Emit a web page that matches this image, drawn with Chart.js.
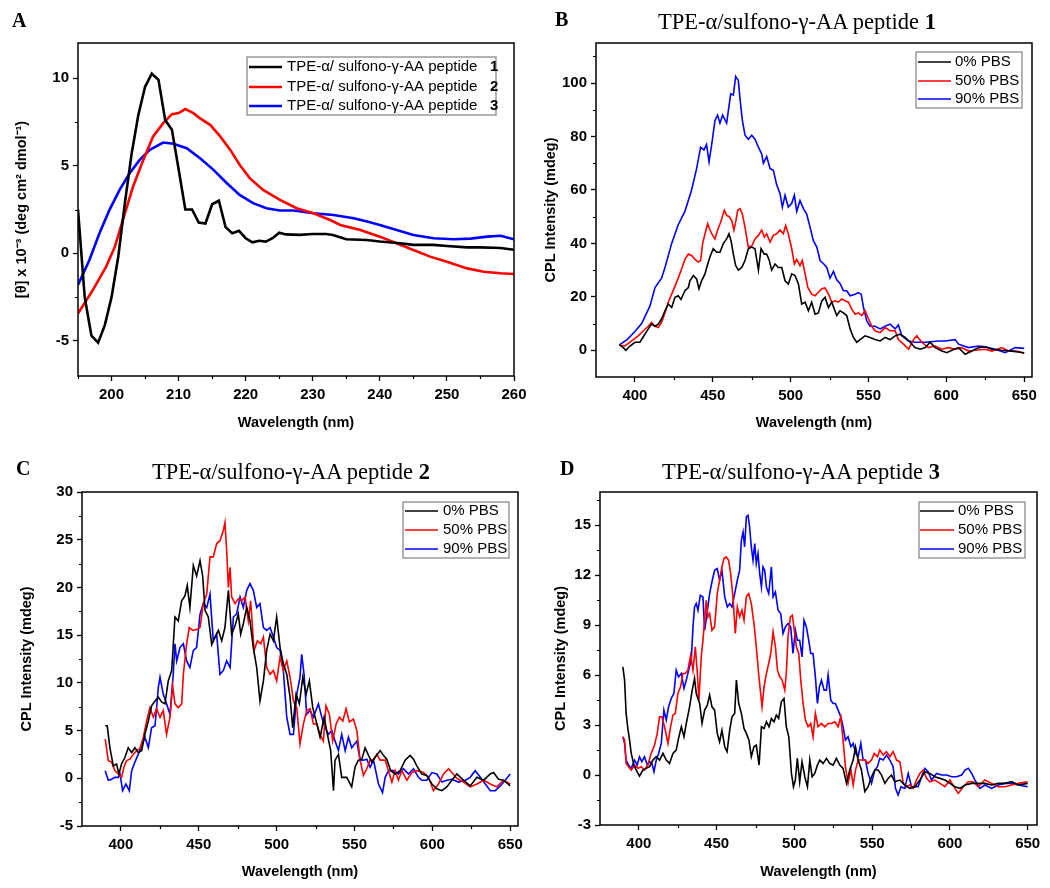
<!DOCTYPE html>
<html><head><meta charset="utf-8">
<script src="https://cdn.jsdelivr.net/npm/chart.js@4.4.1/dist/chart.umd.min.js"></script>
<style>
body{margin:0;background:#fff;width:1050px;height:888px;position:relative;overflow:hidden}
canvas{position:absolute}
.t{position:absolute;font-family:"Liberation Serif","Times New Roman",serif;font-size:22.5px;line-height:24px;text-align:center;width:400px;color:#000;white-space:nowrap}
.l{position:absolute;font-family:"Liberation Serif","Times New Roman",serif;font-weight:bold;font-size:20px;line-height:24px;color:#000}
</style></head><body>
<canvas id="cA" width="540" height="440" style="left:0;top:0"></canvas>
<canvas id="cB" width="525" height="440" style="left:525px;top:0"></canvas>
<canvas id="cC" width="540" height="448" style="left:0;top:440px"></canvas>
<canvas id="cD" width="525" height="448" style="left:525px;top:440px"></canvas>
<div class="l" style="left:12px;top:8px">A</div>
<div class="l" style="left:555px;top:7px">B</div>
<div class="l" style="left:16px;top:456px">C</div>
<div class="l" style="left:560px;top:456px">D</div>
<div class="t" style="left:597px;top:10px">TPE-α/sulfono-γ-AA peptide <b>1</b></div>
<div class="t" style="left:91px;top:460px">TPE-α/sulfono-γ-AA peptide <b>2</b></div>
<div class="t" style="left:601px;top:460px">TPE-α/sulfono-γ-AA peptide <b>3</b></div>
<script>
// ---------- labels ----------
const seriesA = ['TPE-α/ sulfono-γ-AA peptide 1','TPE-α/ sulfono-γ-AA peptide 2','TPE-α/ sulfono-γ-AA peptide 3'];
const seriesPBS = ['0% PBS','50% PBS','90% PBS'];
const xTitle = 'Wavelength (nm)';
const yTitleA = '[θ] x 10⁻³ (deg cm² dmol⁻¹)';
const yTitleCPL = 'CPL Intensity (mdeg)';

// ---------- ticks ----------
const xTicksA = [200,210,220,230,240,250,260];
const xMinorA = [195,205,215,225,235,245,255];
const yTicksA = [-5,0,5,10];
const yMinorA = [-2.5,2.5,7.5];
const xTicksCPL = [400,450,500,550,600,650];
const xMinorCPL = [425,475,525,575,625];
const yTicksB = [0,20,40,60,80,100];
const yMinorB = [10,30,50,70,90,110];
const yTicksC = [-5,0,5,10,15,20,25,30];
const yMinorC = [-2.5,2.5,7.5,12.5,17.5,22.5,27.5];
const yTicksD = [-3,0,3,6,9,12,15];
const yMinorD = [-1.5,1.5,4.5,7.5,10.5,13.5,16.5];

// ---------- data: [wavelength nm, value] ----------
const aBlack = [[195,2.5],[196,-2.5],[197,-4.7],[198,-5.1],[199,-4.1],[200,-2.5],[201,-0.2],[202,2.9],[203,5.7],[204,7.9],[205,9.5],[206,10.25],[207,9.9],[208,7.6],[209,7.05],[210,4.8],[211,2.5],[212,2.5],[213,1.75],[214,1.7],[215,2.8],[216,3.0],[217,1.5],[218,1.14],[219,1.28],[220,0.86],[221,0.63],[222,0.72],[223,0.67],[224,0.86],[225,1.18],[226,1.08],[228,1.05],[230,1.1],[232,1.1],[233,1.05],[235,0.8],[238,0.76],[240,0.67],[243,0.57],[245,0.48],[248,0.48],[250,0.42],[253,0.34],[255,0.34],[258,0.3],[260,0.2]];
const aRed = [[195,-3.43],[197.2,-2.1],[199.2,-0.76],[200.5,0.38],[202,2.3],[203.2,3.8],[204.7,5.3],[206.2,6.67],[207.7,7.43],[209,7.94],[210,8.0],[211,8.23],[212.2,8.0],[213.2,7.7],[214.7,7.33],[216.2,6.67],[217.7,5.9],[219.1,5.05],[220.6,4.29],[222.6,3.62],[225.1,3.05],[227.6,2.57],[230.1,2.29],[232.6,1.9],[234.1,1.62],[237.1,1.33],[240,0.95],[242.5,0.57],[245,0.19],[247.5,-0.19],[250,-0.48],[253,-0.86],[255.5,-1.05],[258,-1.14],[260,-1.18]];
const aBlue = [[195,-1.8],[196.7,-0.38],[198.2,1.14],[199.7,2.48],[201.2,3.62],[202.7,4.57],[204.2,5.33],[205.7,5.9],[207.7,6.32],[209.2,6.25],[211.2,6.0],[213.2,5.43],[215.2,4.76],[217.2,4.0],[219.1,3.33],[221.1,2.86],[223.1,2.57],[225.1,2.44],[227.1,2.44],[230.1,2.29],[233.1,2.19],[236.1,2.0],[238.1,1.81],[240,1.62],[242.5,1.33],[245,1.05],[248,0.86],[251,0.8],[253.5,0.84],[256,0.95],[258,1.0],[260,0.8]];

const bBlack = [[390,2],[392.5,1],[394.2,0],[396.8,1.6],[400,3],[403.2,3],[406.4,6],[408.6,8],[410.7,9.8],[412.9,9],[415,9.8],[417.1,11.7],[419.3,14.8],[421.4,17.3],[423.6,16],[425.7,19.8],[427.8,20.4],[429.6,19],[432.1,22.3],[434.3,23.5],[435.3,26],[437.5,28],[439.6,26.7],[441.1,23],[442.8,26],[445,28.6],[446.1,31],[448.2,35],[450.3,38],[452.5,36.7],[454.6,36.7],[456.8,40],[458.9,41.7],[460.4,43.6],[461.7,41],[463.2,36],[464.7,31.7],[466.4,30],[468.6,31],[470.7,33.6],[472.8,38],[475,38.6],[477.1,38],[479.3,30],[481,38],[483.1,36],[484.6,36],[486.1,34],[487.8,30],[490,32.3],[492.1,31],[494.3,31],[496.4,26],[498.5,24.8],[500.7,28.6],[502.8,28],[505,24.8],[507.1,17.3],[509.3,18],[511.4,14.8],[513.5,18],[515.7,13.5],[517.8,14],[520,18.5],[522.1,19.8],[524.3,16],[526.4,18],[529.6,13],[531.7,14.8],[533.9,14],[536,13],[538.2,8],[540.3,4.8],[542.5,3],[544.6,4],[547.8,5.4],[551,4.8],[554.2,4],[557.5,3.5],[560.7,4.8],[563.9,4],[567.1,5.4],[570.3,6],[573.5,4.8],[576.7,3],[579.9,1],[583.2,0.4],[586.4,1],[589.6,3],[592.8,1],[597.1,-0.3],[600.3,-0.9],[603.5,0],[607.8,1],[612.1,-1.5],[616.4,-0.3],[620.7,1],[624.9,1.3],[629.2,0.4],[635.6,0],[642,-0.3],[650,-0.9]];
const bRed = [[390,2],[393.6,1.6],[397.9,3.5],[402.1,5.4],[405.4,7.3],[408.6,9],[410.7,10.4],[412.9,9],[415,8.5],[417.1,10.4],[419.3,14],[421.4,18],[423.6,21],[425.7,24],[427.8,27],[430,30.5],[432.1,34],[434.3,36],[436.4,35.5],[438.6,34],[440.7,33],[442.2,33.6],[443.5,40],[445,43.6],[446.7,47.4],[448.2,45],[449.9,43],[451.4,41.7],[453.1,45],[455.1,48],[457.4,52.4],[458.9,50.5],[460.6,50],[462.1,48.6],[463.6,45],[464.9,48.6],[466,52.4],[467.5,53],[469,51],[470.7,46],[472.8,38.6],[475,39],[477.1,41.7],[479.3,43],[481.4,45],[483.1,42.4],[484.6,43.6],[486.8,40.5],[488.9,43],[491,43.6],[493.2,45],[495.3,43.6],[496.8,46.7],[498.5,43.6],[500.7,38],[502.4,32.3],[503.9,34],[506,31.7],[507.5,33.6],[509.3,28.6],[511,23.5],[513.5,21],[515.7,20.4],[517.8,21.7],[520,23],[522.1,23.3],[524.3,21],[526.4,18],[528.5,18.5],[530.7,18],[532.8,19.2],[535,18.5],[537.1,18],[539.2,15.4],[541.4,13.5],[543.5,14],[545.7,13],[547.8,14.8],[550,11.7],[552.1,9],[554.2,7.3],[557.5,6.6],[560.7,8.5],[563.9,7.3],[567.1,7.3],[569.2,4],[572.5,2.3],[575.7,0.4],[578.9,4],[581,5.4],[584.2,3],[588.5,1],[592.8,1.6],[597.1,0.4],[601.4,1],[605.7,0.4],[609.9,1],[614.2,-0.3],[618.5,0],[624.9,0.4],[629.2,-0.3],[635.6,1],[639.9,-0.3],[645.3,-0.3],[650,-1.2]];
const bBlue = [[390,2],[395,4],[400,7],[404.3,10],[409.6,16.5],[412.9,23.5],[417.1,27],[419.3,31],[423.6,40],[427.8,47],[432.1,52],[436.4,60],[439.6,68],[442.2,76],[444.3,75],[446,77],[447.6,70.5],[449.3,77],[451.4,86],[453.1,88],[454.6,85],[456.3,88],[458.9,85],[461.5,96],[463.2,95.5],[464.7,102.5],[466.4,101],[467.5,94],[469,86],[470.7,80.5],[472.8,79],[475,80.5],[477.1,79],[479.3,76],[481.4,73.5],[482.5,70],[484.6,72.5],[486.8,68],[488.9,67.4],[491,62],[493.2,58.6],[494.7,53.6],[496.4,58],[498.5,53.6],[500.7,55],[502.4,58],[503.9,52],[506,56],[508.2,53],[510.3,51],[512.5,46],[514.6,41],[516.8,38.6],[518.9,33.6],[521,32.5],[523.2,31],[525.3,27],[527.5,29.5],[529.6,26.4],[531.7,25],[533.9,22.3],[536,22.3],[538.2,20.4],[541.4,21],[543.5,21.6],[545.3,21],[546.8,16],[548.9,11],[551,9],[554.2,9],[557.5,8],[560.7,9],[563.9,9.8],[567.1,8],[569.2,9.5],[571.4,5.4],[575.7,3.5],[580,3],[586.4,3],[595,3.5],[599.2,3.5],[605.7,4],[607.8,2.3],[614.2,1],[620.7,1.6],[624.9,1.3],[631.4,0.4],[637.8,-0.9],[644.2,1],[650,0.7]];

const cBlack = [[389.9,5.5],[391.2,5.5],[392.9,3.2],[395.1,1.3],[397.2,1.5],[398.7,0.45],[400.4,1.5],[402.6,2.2],[404.7,3.2],[406.9,2.7],[409,3.2],[411.1,2.7],[413.3,2.9],[415.4,4.6],[417.6,6],[419.7,7.6],[421.9,8.1],[424,8.5],[426.1,8],[428.3,7.8],[430.4,10.2],[432.6,11.3],[434.7,16.9],[436.8,16.5],[439,18.6],[441.1,19.1],[442.6,20.2],[444.3,17.9],[446.5,22.3],[448.6,21.2],[450.8,22.8],[452.5,21.2],[454,17.6],[456.1,16.9],[458.3,14],[460.4,14.8],[462.6,15.5],[464.7,14.4],[466.8,15.8],[469,19.7],[471.1,15.1],[473.3,16],[475.4,17.2],[476.9,15.1],[478.6,16.2],[480.8,17.9],[482.9,16.5],[485,13.7],[487.2,11.6],[489.3,8.1],[491.5,10.2],[493.6,13.4],[495.8,15.1],[497.9,14.4],[500,16.9],[502.2,13.7],[504.3,12],[506.5,10.9],[508.6,8.5],[510.3,5.3],[512.5,8.8],[514.6,7.8],[516.8,10.6],[518.9,8.8],[521,10.2],[523.2,7.4],[525.8,5.7],[527.9,4.3],[530.5,6.4],[532.6,4.6],[534.7,2.9],[536.5,-1.3],[537.5,1.9],[539.7,2.5],[541.8,0.1],[545,0.1],[548.2,-0.9],[550.4,1.2],[552.5,1.9],[554.7,2],[556.8,3.2],[559,2.4],[561.1,1.7],[563.2,2.2],[566.5,2.9],[568.6,2.4],[570.7,2],[573.3,0.8],[576.1,0.45],[579.3,0.8],[582.5,1.9],[585.7,2.4],[587.9,2],[590,1.3],[593.2,0.45],[596.4,0.3],[599.7,-0.6],[602.9,-1.1],[606.1,-1.3],[609.3,-0.9],[612.5,-0.2],[615.7,0.45],[620,-0.2],[624.3,-0.8],[628.6,0.1],[632.9,-0.2],[637.2,0.45],[639.3,0.6],[642.5,-0.1],[645.7,-0.2],[650,-0.8]];
const cRed = [[389.9,4.1],[391.9,1.85],[394,1.7],[396.1,0.8],[398.3,0.45],[400.4,0.1],[401.9,1.15],[403.6,1.85],[405.8,2],[407.9,2.5],[410.1,2.9],[412.2,3.1],[414.4,4.3],[416.5,6],[418.6,7.4],[420.8,6.4],[422.9,7.3],[425.1,6.4],[427.2,7.1],[429.3,4.6],[431.5,6.4],[433.2,9.7],[434.7,7.8],[436.8,7.4],[439,7.8],[440.1,10.9],[442.2,14.1],[443.9,15.8],[446.1,15.5],[448.6,15.6],[450.8,15.8],[452.9,18.3],[455.1,19.3],[457.2,23.2],[459.3,23.2],[461.5,24.6],[463.6,24.9],[465.8,26],[466.8,26.8],[467.9,23.9],[469,20],[470.1,22.1],[471.1,19],[473.3,18.3],[475.4,18.8],[477.6,18.6],[479.7,19],[481.8,16.5],[483.3,18.6],[485.5,13.4],[487.6,14.4],[489.8,14.1],[491.5,14.8],[493.6,11.6],[495.8,10.9],[497.9,11.3],[500,10.2],[502.2,12.7],[504.3,11.3],[506.5,12.3],[508.6,10.6],[510.8,8.1],[512.9,7.4],[515,3.6],[517.2,5.7],[519.3,7.1],[521.5,7.3],[523.6,5.7],[525.8,5.7],[527.9,4.6],[530,3.9],[531.7,7.6],[533.9,6.7],[536,3.9],[538.2,5.7],[540.3,6.4],[542.5,6],[544.6,7.3],[546.7,5.9],[549.3,6.2],[551.5,5],[553.6,1.9],[555.7,0.3],[557.9,1],[560,1.9],[562.2,1.9],[564.3,2.5],[566.5,1.9],[569.7,1.9],[571.8,0.8],[574,-0.4],[576.1,0.8],[578.2,-0.2],[580.4,0.8],[583.6,-0.2],[586.8,0.6],[590,0.8],[594.3,0.6],[597.5,0.1],[600.7,-1.3],[603.9,-0.6],[607.2,0.45],[610.4,1],[612.5,0.6],[615.7,0],[620,-0.4],[624.3,-0.9],[628.6,-0.6],[632.9,-0.2],[637.2,-0.6],[641.4,-0.9],[645.7,-0.2],[650,-0.6]];
const cBlue = [[389.9,0.8],[391.9,-0.2],[394,-0.1],[396.1,0.1],[398.3,0.1],[399.4,0.45],[401.1,-1.3],[403.2,-0.6],[405.4,-1.3],[406.9,0.8],[409,1.7],[411.1,2.5],[413.3,3.4],[415.4,4.3],[417.6,3.2],[419.7,5.3],[421.9,5.5],[424,9.5],[425.1,10.6],[427.2,8.8],[429.3,7.8],[431.5,6.7],[433.6,10.9],[434.7,14.1],[435.8,12.3],[437.9,13.7],[440.1,14.1],[442.2,12.3],[444.3,11.6],[446.5,13.4],[448.6,13.7],[450.8,17.2],[452.9,18.3],[455.1,17.9],[457.2,19.3],[459.3,14.4],[461.5,15.1],[463.6,10.9],[465.8,11.3],[467.9,12.3],[470.1,11.6],[472.2,16.9],[474.3,17.2],[476.5,19],[478.6,17.9],[480.8,19.7],[482.9,20.4],[485,19.7],[487.2,17.9],[489.3,18.3],[491.5,15.8],[493.6,15.5],[495.8,15.8],[497.9,14.8],[500,13.7],[502.2,13.4],[504.3,11.3],[506.5,6.4],[508.6,4.6],[510.8,4.6],[512.9,8.8],[515,10.6],[516.1,13],[517.6,10.9],[519.3,6.7],[521.5,7.1],[523.6,6.4],[526.8,7.8],[529,6.4],[531.1,5.3],[533.2,4.6],[535.4,5],[537.5,3.9],[539.7,2.9],[541.8,4.6],[544,2.9],[546.1,4.3],[548.2,3.2],[551.5,3.9],[553.6,1.9],[555.7,1.9],[557.9,2],[560,1.15],[562.2,1.9],[565.4,-0.6],[568,-1.5],[569.7,0.1],[571.8,0.8],[575,0.8],[578.2,0.45],[581.4,1],[584.7,0.45],[587.9,1],[591.1,0.1],[593.2,-0.2],[596.4,-0.2],[599.7,0.6],[602.9,0.45],[606.1,-0.4],[609.3,-0.2],[612.5,-0.1],[616.8,-0.4],[621.1,-0.2],[624.3,0.1],[627.5,0.8],[630.8,0.1],[634,-0.6],[637.2,-1.3],[640.4,-1.3],[643.6,-0.8],[646.8,-0.2],[650,0.45]];

const dBlack = [[389.7,6.5],[390.8,5.7],[391.8,3.7],[392.9,2.8],[394,2.1],[395.1,1.3],[396.8,0.6],[398.3,0.3],[400.4,-0.06],[402.6,0.3],[404.7,0.4],[406.9,0.5],[409,0.9],[411.2,1.1],[413.3,0.9],[415.5,1.3],[417.6,0.9],[419.7,0.7],[421.9,1.3],[424,1.5],[425.5,2.2],[427.3,2.9],[429,2.3],[430.5,3.1],[432.6,4.1],[434.3,5.1],[435.8,5.8],[436.9,4.9],[439.1,4.3],[440.6,3.1],[442.3,3.9],[444,4.2],[445.5,4.8],[447,4.1],[448.7,3.9],[450.4,2.5],[451.9,2],[453.4,2.7],[455.2,1.7],[456.7,1.4],[458.4,2.7],[459.9,3.5],[461.6,3.7],[462.7,5.7],[464.2,4.3],[465.9,3.7],[467.6,2.8],[469.1,2.5],[470.8,2.1],[472.3,1.1],[474,1.7],[475.5,1.8],[477.3,0.6],[478.8,2.9],[480.5,2.8],[482,3.2],[483.7,2.9],[485.2,3.4],[486.9,3.2],[488.4,3.6],[489.9,3.4],[491.6,4.4],[493.3,4.6],[494.8,2.9],[496.4,2.3],[498.1,0.1],[499.4,-0.7],[500.6,-0.3],[501.9,1],[503.4,-0.4],[504.9,0.8],[506.7,-0.1],[508.4,-0.7],[509.9,0.9],[511.4,-0.1],[513.1,0.1],[514.8,0.6],[516.3,0.9],[518.5,0.7],[520.6,1],[522.7,0.7],[524.9,0.6],[527,1],[529.2,0.6],[531.3,0.4],[533.5,-0.5],[535.6,0.3],[537.8,0.9],[539.3,1.7],[541,0.9],[543.1,0.3],[545.3,-1],[547.4,-0.7],[549.6,-0.1],[551.7,0.3],[553.9,0.3],[556,0],[558.2,-0.5],[560.3,-0.2],[562.4,0],[564.6,-0.4],[567.8,-0.3],[571,-0.6],[574.2,-0.8],[577.5,-0.7],[580.7,-0.3],[583.9,0.2],[587.1,0.1],[590.3,-0.1],[593.6,-0.2],[596.8,-0.3],[600,-0.5],[603.2,-0.7],[606.4,-0.8],[609.7,-0.6],[614,-0.5],[618.2,-0.5],[622.5,-0.5],[626.8,-0.6],[631.1,-0.5],[635.4,-0.5],[639.7,-0.4],[644,-0.6],[650,-0.5]];
const dRed = [[389.7,2.3],[390.8,2.1],[391.8,0.7],[393.3,0.5],[395.1,0.3],[397.2,0.6],[399.4,0.4],[401.5,0.5],[403.6,0.3],[405.8,0.6],[407.9,1.3],[410.1,1.8],[411.8,2.5],[413.3,3.5],[414.8,3.5],[416.5,2.9],[418.7,1.9],[420.4,2.9],[421.9,3.6],[423.4,3.7],[425.1,4.9],[426.8,5.3],[428.3,6.1],[429.8,6.1],[431.5,6.3],[433.3,7.2],[434.8,6.3],[436.3,7.7],[437.6,6.1],[438.6,4.5],[440.1,7.1],[441.2,8.1],[442.3,9.3],[443.3,10.5],[444.4,9.5],[445.5,9.7],[447,8.7],[448.7,8.9],[450.4,10.9],[451.9,11.7],[453.4,12.5],[454.7,13],[456.2,13.1],[457.7,12.9],[459,12.1],[460.5,10.7],[462,8.5],[463.3,10.1],[464.8,9.5],[466.3,9.9],[467.6,9.3],[469.1,10.7],[470.6,10.9],[472.3,10.3],[474,9.1],[475.5,7.7],[477,6.1],[478.3,4.9],[479.2,4.1],[480.5,5.3],[482,6.1],[483,6.5],[484.8,7.3],[486.3,8.6],[487.8,7.7],[489.1,6.3],[490.6,5.9],[492.1,5.7],[493.8,5.1],[494.8,6.1],[495.9,8.3],[497.4,9.5],[498.7,9.6],[500.2,8.5],[501.3,7.7],[502.8,7.3],[504.1,5.7],[505.6,4.3],[507.1,3.3],[508.8,2.9],[510.5,3.1],[512,2.3],[513.5,3.7],[515.2,2.9],[517.4,3.1],[519.5,2.9],[521.7,3.1],[523.8,3.1],[526,3.2],[528.1,2.9],[529.8,3.5],[531.3,2.1],[532.8,0.5],[534.5,-0.5],[536.3,0.3],[537.8,-0.6],[539.3,0.3],[541,0.9],[543.1,0.9],[545.3,0.9],[547.4,0.7],[549.6,0.9],[551.3,1.3],[553.4,1.1],[554.9,1.5],[557.1,1.2],[559.2,1.4],[561.4,1.1],[563.5,1.4],[565.7,0.9],[567.8,0.8],[570,-0.5],[572.1,-0.7],[574.2,-0.6],[576.4,-0.8],[578.5,-0.3],[580.7,0.1],[582.8,0.3],[585,-0.2],[587.1,-0.4],[590.3,-0.3],[593.6,-0.5],[596.8,-0.7],[600,-0.3],[603.2,-0.8],[605.4,-1.1],[608.6,-0.7],[611.8,-0.4],[615,-0.4],[618.2,-0.7],[622.5,-0.3],[626.8,-0.5],[631.1,-0.7],[635.4,-0.7],[639.7,-0.6],[644,-0.5],[650,-0.4]];
const dBlue = [[389.7,2.3],[390.8,1.9],[391.8,0.9],[393.3,0.6],[395.1,0.4],[397.2,0.9],[398.9,0.6],[400.4,1.1],[401.9,0.8],[403.6,1.1],[405.4,0.6],[406.9,0.8],[408.4,0.7],[409.7,0.2],[411.2,0.9],[412.7,1.3],[414.4,1.9],[416.1,3.9],[417.6,3.3],[419.1,4.1],[420.8,4.6],[422.5,4.9],[424,6.3],[425.5,5.9],[427.3,6.1],[429,5.2],[430.5,5.7],[432,6.3],[433.7,6.9],[434.8,8.9],[435.8,10.1],[436.9,10.3],[438,9.9],[439.5,10.8],[441.2,10.7],[442.3,8.7],[443.8,9.7],[445.5,10.9],[447.2,11.7],[448.7,12.3],[450.4,12.4],[451.9,11.7],[453.4,12.3],[455.2,10.7],[456.9,10.1],[458.4,10.3],[459.9,10.1],[461.6,10.9],[463.3,11.7],[464.8,12.3],[465.9,14.1],[467,14.6],[468,13.7],[469.1,15.5],[470.2,15.6],[471.2,14.9],[472.3,13.7],[473.4,12.9],[474.5,13.9],[475.5,12.7],[476.6,13.3],[477.7,12.1],[478.8,11.3],[479.8,12.5],[480.9,12.3],[482,11.3],[483.5,10.9],[485.2,12.5],[486.3,10.7],[487.8,11],[489.5,9.9],[491.2,9.7],[492.7,8.5],[494.2,8.9],[495.9,9.1],[497.6,8.9],[499.1,7.3],[500.6,8.7],[501.9,8.1],[503.4,8.1],[504.9,7.1],[506.2,9.3],[507.7,8.9],[509.2,8.1],[510.5,7.3],[512,7.3],[513.5,5.9],[514.8,4.3],[516.1,5.3],[517.4,5.7],[519.1,5.1],[520.6,5.1],[521.7,6],[523.4,4.5],[524.9,4.3],[526.4,4.3],[528.1,3.9],[529.8,3.5],[531.3,2.9],[532.8,2.1],[534.5,2.3],[536.3,1.7],[537.8,1.9],[539.3,1.3],[541,1.1],[542.7,1.9],[544.2,0.9],[545.7,0.9],[547.4,0.1],[549.6,-0.5],[551.7,0.3],[553.4,0.5],[554.9,1],[557.1,0.9],[559.2,1.2],[561.4,0.9],[563.5,0.5],[565,-0.8],[566.7,-1.2],[568.5,-0.7],[571,-0.8],[573.2,0.1],[575.3,-0.7],[577.5,-0.7],[579.6,-0.7],[581.8,-0.1],[583.9,0.4],[586,0.2],[588.2,-0.3],[591.4,0.1],[594.6,0],[597.9,0],[601.1,-0.1],[604.3,-0.1],[607.5,0],[609.7,0.3],[611.8,0.4],[614,0.1],[616.1,-0.3],[619.3,-0.8],[622.5,-0.6],[626.8,-0.8],[631.1,-0.6],[635.4,-0.5],[639.7,-0.5],[644,-0.6],[650,-0.7]];

// ---------- rendering ----------
const SANS = '"Liberation Sans", Arial, Helvetica, sans-serif';
const COLORS = ['#000000', '#ff0000', '#0000ff'];

const framePlugin = {
  id: 'frame',
  afterDraw(chart, args, o) {
    const {ctx, chartArea: a, scales} = chart;
    ctx.save();
    ctx.strokeStyle = '#000';
    ctx.lineWidth = 1.2;
    ctx.beginPath();
    o.xMinor.forEach(v => { const p = Math.round(scales.x.getPixelForValue(v)) + 0.5; ctx.moveTo(p, a.bottom); ctx.lineTo(p, a.bottom + 3); });
    o.yMinor.forEach(v => { const p = Math.round(scales.y.getPixelForValue(v)) + 0.5; ctx.moveTo(a.left, p); ctx.lineTo(a.left - 3, p); });
    ctx.stroke();
    ctx.lineWidth = 1.5;
    ctx.strokeRect(a.left, a.top, a.right - a.left, a.bottom - a.top);
    const lg = o.legend;
    ctx.fillStyle = '#fff';
    ctx.fillRect(lg.x, lg.y, lg.w, lg.h);
    ctx.strokeStyle = '#8a8a8a';
    ctx.lineWidth = 1.3;
    ctx.strokeRect(lg.x, lg.y, lg.w, lg.h);
    ctx.textBaseline = 'middle';
    chart.data.datasets.forEach((ds, i) => {
      const y = lg.rows[i];
      ctx.strokeStyle = ds.borderColor; ctx.lineWidth = ds.borderWidth;
      ctx.beginPath(); ctx.moveTo(lg.x1, y); ctx.lineTo(lg.x2, y); ctx.stroke();
      ctx.fillStyle = '#000';
      ctx.font = lg.size + 'px ' + SANS;
      if (lg.boldLast) {
        const k = ds.label.lastIndexOf(' ');
        const pre = ds.label.slice(0, k) + '   ';
        ctx.fillText(pre, lg.tx, y);
        const w = ctx.measureText(pre).width;
        ctx.font = 'bold ' + lg.size + 'px ' + SANS;
        ctx.fillText(ds.label.slice(k + 1), lg.tx + w, y);
      } else {
        ctx.fillText(ds.label, lg.tx, y);
      }
    });
    ctx.restore();
  }
};

function build(id, p) {
  const cv = document.getElementById(id);
  const W = cv.width, H = cv.height;
  const LH = 14.5 * 1.2;
  const tickFont = {family: SANS, weight: 'bold', size: 15};
  const titleFont = {family: SANS, weight: 'bold', size: 14.5};
  new Chart(cv, {
    type: 'line',
    data: {
      datasets: p.series.map((s, i) => ({
        label: p.labels[i],
        data: s.map(([x, y]) => ({x, y})),
        borderColor: COLORS[i], backgroundColor: COLORS[i],
        borderWidth: p.lw, pointRadius: 0, tension: 0, fill: false
      }))
    },
    options: {
      responsive: false, animation: false, events: [],
      layout: {padding: {left: 0, top: p.area.t, right: W - p.area.r, bottom: 0}},
      plugins: {legend: {display: false}, tooltip: {enabled: false}, frame: {xMinor: p.xMinor, yMinor: p.yMinor, legend: p.legend}},
      scales: {
        x: {
          type: 'linear', min: p.xMin, max: p.xMax,
          afterBuildTicks: s => { s.ticks = p.xTicks.map(v => ({value: v})); },
          afterFit: s => { s.height = H - p.area.b; s.paddingLeft = 0; s.paddingRight = 0; },
          ticks: {font: tickFont, color: '#000', padding: 5, maxRotation: 0, autoSkip: false, callback: v => String(v)},
          grid: {display: true, drawOnChartArea: false, drawTicks: true, tickLength: 5, tickWidth: 1.3, tickColor: '#000'},
          border: {display: false},
          title: {display: true, text: xTitle, font: titleFont, color: '#000', padding: {top: 0, bottom: (H - p.xTitleY) - LH / 2}}
        },
        y: {
          type: 'linear', min: p.yMin, max: p.yMax,
          afterBuildTicks: s => { s.ticks = p.yTicks.map(v => ({value: v})); },
          afterFit: s => { s.width = p.area.l; s.paddingTop = 0; s.paddingBottom = 0; },
          ticks: {font: tickFont, color: '#000', padding: 4, autoSkip: false, callback: v => String(v)},
          grid: {display: true, drawOnChartArea: false, drawTicks: true, tickLength: 5, tickWidth: 1.3, tickColor: '#000'},
          border: {display: false},
          title: {display: true, text: p.yTitle, font: titleFont, color: '#000', padding: {top: p.yTitleX - LH / 2, bottom: 0}}
        }
      }
    },
    plugins: [framePlugin]
  });
}

build('cA', {
  series: [aBlack, aRed, aBlue], labels: seriesA, lw: 2.6,
  xMin: 195, xMax: 260, yMin: -7, yMax: 12,
  xTicks: xTicksA, xMinor: xMinorA, yTicks: yTicksA, yMinor: yMinorA,
  area: {l: 78, t: 43, r: 514, b: 376}, yTitle: yTitleA, yTitleX: 22, xTitleY: 423,
  legend: {x: 247, y: 57, w: 249, h: 58, rows: [67, 87, 106], x1: 249, x2: 282, tx: 287, size: 15, boldLast: true}
});
build('cB', {
  series: [bBlack, bRed, bBlue], labels: seriesPBS, lw: 1.6,
  xMin: 375, xMax: 655, yMin: -10, yMax: 115,
  xTicks: xTicksCPL, xMinor: xMinorCPL, yTicks: yTicksB, yMinor: yMinorB,
  area: {l: 71, t: 43, r: 507, b: 377}, yTitle: yTitleCPL, yTitleX: 26, xTitleY: 423,
  legend: {x: 391, y: 52, w: 106, h: 56, rows: [62, 81, 99], x1: 393, x2: 426, tx: 430, size: 15}
});
build('cC', {
  series: [cBlack, cRed, cBlue], labels: seriesPBS, lw: 1.6,
  xMin: 375, xMax: 655, yMin: -5, yMax: 30,
  xTicks: xTicksCPL, xMinor: xMinorCPL, yTicks: yTicksC, yMinor: yMinorC,
  area: {l: 82, t: 52, r: 518, b: 386}, yTitle: yTitleCPL, yTitleX: 27, xTitleY: 432,
  legend: {x: 403, y: 62, w: 106, h: 56, rows: [71, 90, 109], x1: 405, x2: 438, tx: 443, size: 15}
});
build('cD', {
  series: [dBlack, dRed, dBlue], labels: seriesPBS, lw: 1.6,
  xMin: 375, xMax: 656, yMin: -3, yMax: 17,
  xTicks: xTicksCPL, xMinor: xMinorCPL, yTicks: yTicksD, yMinor: yMinorD,
  area: {l: 75, t: 52, r: 512, b: 385}, yTitle: yTitleCPL, yTitleX: 36, xTitleY: 432,
  legend: {x: 394, y: 62, w: 106, h: 56, rows: [71, 90, 109], x1: 395, x2: 429, tx: 433, size: 15}
});
</script>
</body></html>
